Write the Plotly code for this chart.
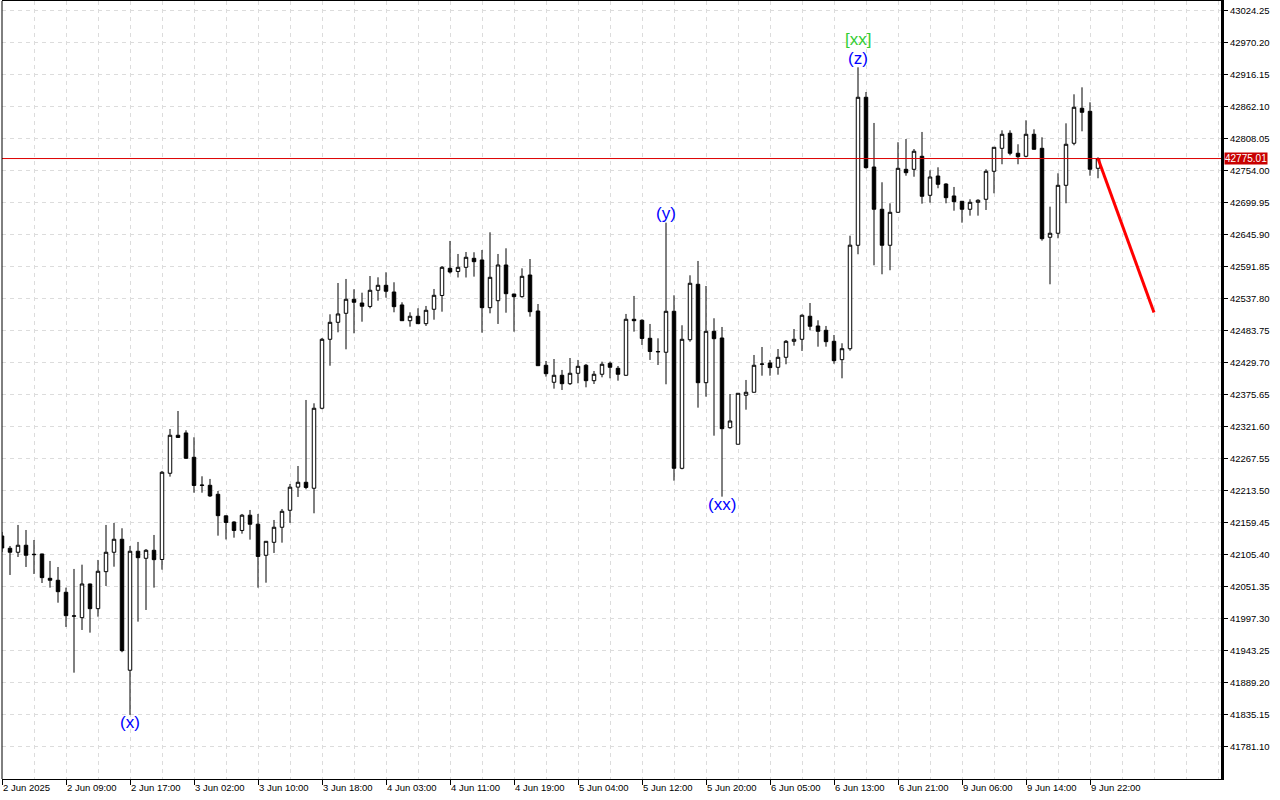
import plotly.graph_objects as go

# ---------------- data (H1 bars, index = bar number) ----------------
opens = [42137.5, 42116.7, 42110.0, 42121.8, 42106.6, 42107.1, 42066.0, 42062.7, 42042.4, 42001.9,
         41999.5, 42056.4, 42014.7, 42077.2, 42110.0, 42131.9, 41910.7, 42111.7, 42099.8, 42113.3,
         42097.8, 42243.4, 42307.6, 42311.5, 42270.4, 42223.6, 42223.1, 42207.9, 42171.5, 42161.1,
         42146.8, 42172.6, 42157.4, 42104.9, 42126.8, 42152.2, 42180.9, 42220.0, 42228.2, 42218.1,
         42353.2, 42469.7, 42498.4, 42513.6, 42537.3, 42531.0, 42525.2, 42552.5, 42560.9, 42549.6,
         42527.7, 42501.1, 42508.6, 42496.1, 42520.4, 42543.7, 42589.6, 42584.3, 42591.3, 42606.5,
         42603.7, 42523.1, 42534.9, 42595.2, 42546.2, 42541.7, 42578.3, 42517.5, 42425.8, 42397.1,
         42408.9, 42394.7, 42412.3, 42425.8, 42399.8, 42410.6, 42429.2, 42420.7, 42408.9, 42503.5,
         42501.8, 42471.4, 42449.1, 42447.8, 42517.0, 42251.8, 42469.0, 42562.6, 42396.4, 42483.2,
         42471.9, 42320.4, 42292.4, 42375.2, 42380.2, 42427.5, 42429.7, 42422.4, 42439.3, 42466.3,
         42469.7, 42508.6, 42492.2, 42484.9, 42466.3, 42435.3, 42453.8, 42628.5, 42878.5, 42760.7,
         42689.3, 42628.5, 42684.2, 42756.8, 42756.8, 42778.8, 42712.9, 42745.5, 42732.0, 42711.8,
         42702.8, 42689.3, 42701.1, 42706.2, 42753.5, 42792.3, 42817.7, 42783.9, 42778.8, 42816.0,
         42792.3, 42642.0, 42648.8, 42729.8, 42800.8, 42859.9, 42854.8, 42758.5]
highs = [42144.3, 42120.6, 42156.1, 42147.6, 42130.7, 42107.5, 42095.3, 42085.1, 42050.2, 42081.8,
         42089.0, 42057.0, 42097.0, 42156.1, 42159.5, 42150.5, 42120.6, 42127.4, 42115.5, 42139.2,
         42247.3, 42318.2, 42348.6, 42316.0, 42304.2, 42238.3, 42233.8, 42213.5, 42171.8, 42162.3,
         42174.7, 42181.4, 42174.7, 42129.0, 42164.5, 42183.1, 42225.3, 42255.7, 42367.2, 42361.6,
         42471.9, 42511.9, 42564.8, 42571.6, 42554.2, 42548.4, 42576.6, 42574.4, 42582.9, 42566.0,
         42532.2, 42515.3, 42522.1, 42526.0, 42554.7, 42593.5, 42635.8, 42613.8, 42617.2, 42616.7,
         42620.5, 42650.4, 42613.8, 42623.4, 42546.5, 42589.6, 42605.3, 42529.3, 42433.1, 42436.4,
         42417.9, 42438.1, 42434.8, 42428.0, 42416.2, 42431.9, 42431.9, 42424.6, 42512.5, 42542.9,
         42503.5, 42495.6, 42471.4, 42666.7, 42544.0, 42493.4, 42577.8, 42602.0, 42559.7, 42505.2,
         42490.5, 42377.3, 42378.5, 42401.0, 42443.2, 42456.7, 42434.8, 42453.3, 42468.5, 42487.1,
         42511.9, 42531.0, 42501.8, 42492.2, 42477.0, 42463.0, 42644.7, 42929.1, 42887.4, 42835.1,
         42734.9, 42699.4, 42802.5, 42808.0, 42791.1, 42819.9, 42755.2, 42760.2, 42733.2, 42727.0,
         42703.0, 42706.2, 42706.2, 42756.9, 42794.0, 42822.7, 42822.7, 42799.1, 42839.6, 42824.4,
         42810.9, 42693.7, 42750.1, 42834.5, 42883.5, 42895.3, 42870.0, 42777.1]
lows = [42110.5, 42071.6, 42102.0, 42085.1, 42073.3, 42058.1, 42050.2, 42024.8, 41983.8, 41906.6,
        41978.7, 41974.2, 42001.2, 42053.0, 42085.6, 41941.1, 41835.2, 41992.8, 42012.5, 42050.2,
        42080.6, 42237.7, 42303.5, 42267.5, 42210.6, 42210.6, 42203.4, 42138.0, 42131.6, 42134.6,
        42141.4, 42131.3, 42050.2, 42058.6, 42108.8, 42126.2, 42159.5, 42203.4, 42216.4, 42175.8,
        42351.5, 42425.1, 42481.5, 42452.8, 42479.8, 42499.4, 42522.1, 42534.9, 42540.0, 42515.3,
        42500.9, 42491.0, 42495.8, 42492.2, 42502.8, 42516.3, 42580.9, 42574.1, 42574.1, 42575.5,
        42480.9, 42513.6, 42495.6, 42514.6, 42482.6, 42540.0, 42507.9, 42425.0, 42406.6, 42386.3,
        42384.1, 42392.5, 42395.4, 42388.6, 42394.2, 42405.5, 42403.8, 42399.8, 42408.5, 42482.6,
        42460.1, 42434.8, 42426.3, 42393.7, 42230.9, 42250.1, 42465.7, 42354.2, 42372.8, 42306.9,
        42203.9, 42318.7, 42292.4, 42350.8, 42380.0, 42408.2, 42408.2, 42409.9, 42427.5, 42458.9,
        42450.0, 42484.9, 42457.2, 42457.2, 42428.5, 42403.8, 42450.5, 42613.3, 42757.9, 42594.7,
        42579.5, 42586.3, 42684.0, 42746.0, 42744.3, 42698.8, 42700.4, 42724.8, 42699.4, 42686.9,
        42666.7, 42678.5, 42678.5, 42688.1, 42716.3, 42765.3, 42780.5, 42765.3, 42777.1, 42790.4,
        42636.3, 42562.6, 42640.3, 42699.4, 42797.4, 42821.0, 42746.0, 42741.7]
closes = [42117.2, 42110.0, 42121.8, 42104.9, 42106.0, 42067.1, 42062.7, 42043.4, 42002.9, 42002.5,
          42056.4, 42014.7, 42077.9, 42110.0, 42131.9, 41943.8, 42111.7, 42100.8, 42113.3, 42097.5,
          42245.1, 42307.6, 42303.9, 42268.7, 42222.8, 42223.0, 42205.1, 42171.8, 42160.3, 42146.8,
          42172.6, 42157.3, 42102.9, 42128.5, 42152.2, 42179.2, 42219.9, 42228.2, 42219.4, 42353.2,
          42469.7, 42498.4, 42512.5, 42537.3, 42532.2, 42525.5, 42552.5, 42560.9, 42550.8, 42524.8,
          42501.1, 42508.6, 42496.1, 42518.7, 42544.0, 42591.3, 42583.4, 42591.3, 42608.2, 42600.8,
          42523.1, 42574.4, 42595.2, 42546.7, 42541.7, 42576.1, 42516.3, 42425.1, 42411.6, 42408.9,
          42394.7, 42412.3, 42424.1, 42399.8, 42410.6, 42427.5, 42422.4, 42410.6, 42503.5, 42501.1,
          42471.1, 42449.1, 42448.6, 42517.0, 42251.8, 42469.7, 42564.3, 42396.4, 42483.2, 42470.7,
          42318.7, 42331.7, 42378.5, 42380.2, 42425.8, 42427.9, 42421.8, 42439.3, 42466.3, 42469.7,
          42510.3, 42491.7, 42483.2, 42465.7, 42433.6, 42453.8, 42628.7, 42878.5, 42759.6, 42689.3,
          42628.5, 42684.2, 42758.5, 42751.1, 42787.3, 42711.2, 42743.8, 42731.5, 42708.9, 42702.1,
          42689.3, 42701.1, 42704.5, 42753.5, 42794.0, 42816.0, 42783.9, 42778.1, 42816.0, 42790.6,
          42639.6, 42648.8, 42729.8, 42799.1, 42861.6, 42853.1, 42756.9, 42775.01]

current_price = 42775.01

x_tick_idx = [0, 8, 16, 24, 32, 40, 48, 56, 64, 72, 80, 88, 96, 104, 112, 120, 128, 136]
x_tick_labels = ["2 Jun 2025", "2 Jun 09:00", "2 Jun 17:00", "3 Jun 02:00", "3 Jun 10:00",
                 "3 Jun 18:00", "4 Jun 03:00", "4 Jun 11:00", "4 Jun 19:00", "5 Jun 04:00",
                 "5 Jun 12:00", "5 Jun 20:00", "6 Jun 05:00", "6 Jun 13:00", "6 Jun 21:00",
                 "9 Jun 06:00", "9 Jun 14:00", "9 Jun 22:00"]
x_grid_minor = [4, 12, 20, 28, 36, 44, 52, 60, 68, 76, 84, 92, 100, 108, 116, 124, 132,
                140, 144, 148, 152]

y_tick_vals = [41781.10, 41835.15, 41889.20, 41943.25, 41997.30, 42051.35, 42105.40, 42159.45,
               42213.50, 42267.55, 42321.60, 42375.65, 42429.70, 42483.75, 42537.80, 42591.85,
               42645.90, 42699.95, 42754.00, 42808.05, 42862.10, 42916.15, 42970.20, 43024.25]
y_tick_labels = ["41781.10", "41835.15", "41889.20", "41943.25", "41997.30", "42051.35",
                 "42105.40", "42159.45", "42213.50", "42267.55", "42321.60", "42375.65",
                 "42429.70", "42483.75", "42537.80", "42591.85", "42645.90", "42699.95",
                 "42754.00", "42808.05", "42862.10", "42916.15", "42970.20", "43024.25"]

wave_text = ["(x)", "(y)", "(xx)", "(z)", "[xx]"]
wave_idx = [16, 83, 90, 107, 107]
wave_price = [41821.7, 42681.4, 42189.9, 42944.8, 42976.9]
wave_color = ["#0000FF", "#0000FF", "#0000FF", "#0000FF", "#32CD32"]

proj_idx = [137, 144]
proj_price = [42775.01, 42515.0]

# ---------------- figure ----------------
idx = list(range(len(opens)))
fig = go.Figure()
fig.add_trace(go.Candlestick(
    x=idx, open=opens, high=highs, low=lows, close=closes,
    increasing=dict(fillcolor="white", line=dict(color="black", width=1)),
    decreasing=dict(fillcolor="black", line=dict(color="black", width=1)),
    whiskerwidth=0, showlegend=False, hoverinfo="skip"))

fig.add_trace(go.Scatter(x=proj_idx, y=proj_price, mode="lines",
                         line=dict(color="#FF0000", width=3), showlegend=False,
                         hoverinfo="skip"))

fig.add_shape(type="line", xref="paper", x0=0, x1=1, yref="y", y0=current_price,
              y1=current_price, line=dict(color="#DD0000", width=1))
# left frame line
fig.add_shape(type="line", xref="paper", x0=0, x1=0, yref="paper", y0=0, y1=1,
              line=dict(color="black", width=1))

for t, xi, yp, c in zip(wave_text, wave_idx, wave_price, wave_color):
    fig.add_annotation(x=xi, y=yp, text=t, showarrow=False,
                       font=dict(family="Liberation Sans", size=17, color=c))

fig.add_annotation(xref="paper", x=1, xanchor="left", xshift=3, y=current_price,
                   text="%.2f" % current_price, showarrow=False, bgcolor="#C80000",
                   borderpad=0, font=dict(family="Liberation Sans", size=10, color="white"))

grid = dict(gridcolor="#DCDCDC", griddash="4px,4px", gridwidth=1)

fig.update_layout(
    width=1280, height=800,
    margin=dict(l=2, r=59, t=1, b=21),
    paper_bgcolor="white", plot_bgcolor="white",
    boxgap=0.38,
    font=dict(family="Liberation Sans", size=10, color="black"),
    xaxis=dict(range=[0, 152.375], tickvals=x_tick_idx, ticktext=x_tick_labels,
               ticks="outside", ticklen=5, tickcolor="black",
               ticklabelposition="outside right",
               showgrid=True, **grid,
               minor=dict(tickvals=x_grid_minor, showgrid=True, ticks="", **grid),
               showline=True, linecolor="black", linewidth=1, mirror=True,
               zeroline=False, rangeslider=dict(visible=False),
               tickfont=dict(family="Liberation Sans", size=9.5)),
    yaxis=dict(range=[41727.0, 43041.1], side="right", tickvals=y_tick_vals,
               ticktext=y_tick_labels, ticks="outside", ticklen=4, tickcolor="black",
               showgrid=True, **grid, zeroline=False,
               showline=True, linecolor="black", linewidth=3,
               tickfont=dict(family="Liberation Sans", size=9.5)),
)

fig.write_html("out.html", config={"displayModeBar": False},
               post_script="document.body.style.margin='0px';document.body.style.overflow='hidden';")
